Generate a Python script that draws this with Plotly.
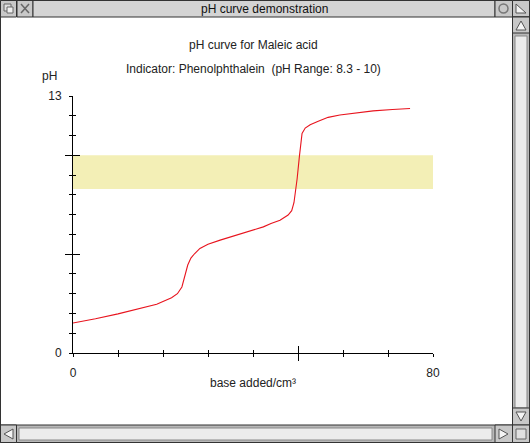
import plotly.graph_objects as go

# titration data
base_added = [0, 5, 10, 14, 18.6, 21.9, 23.2, 24.2, 24.9, 25.5, 26.2, 27.0, 28.2,
              30.0, 32.7, 35.0, 38.5, 42.3, 44.0, 46.0, 47.8, 48.6, 49.1, 49.5,
              49.8, 50.3, 50.9, 51.6, 52.7, 54.5, 56.7, 59.3, 63.0, 66.7, 71.0, 74.9]
ph_values = [1.52, 1.73, 1.98, 2.2, 2.47, 2.8, 3.0, 3.34, 4.0, 4.45, 4.8, 5.02, 5.29,
             5.5, 5.71, 5.87, 6.1, 6.38, 6.55, 6.72, 6.98, 7.2, 7.6, 8.2,
             8.8, 9.92, 11.11, 11.38, 11.55, 11.72, 11.92, 12.04, 12.15, 12.25, 12.32, 12.37]

indicator_range = [8.3, 10]
x_ticks = [0, 10, 20, 30, 40, 50, 60, 70, 80]
x_labels = ["0", "", "", "", "", "", "", "", "80"]
x_long = [50]
y_ticks = list(range(0, 14))
y_labels = ["0"] + [""] * 12 + ["13"]
y_long = [5, 10]

W, H = 530, 443
L, R, T, B = 73, 97, 96, 90
PW, PH = W - L - R, H - T - B
FONT = "Liberation Sans, Arial, sans-serif"


def px(x):
    return (x - L) / PW


def py(y):
    return (H - B - y) / PH


fig = go.Figure()
fig.add_trace(go.Scatter(x=base_added, y=ph_values, mode="lines",
                         line=dict(color="#e8141e", width=1.1),
                         hoverinfo="x+y", showlegend=False))
# empty traces so the overlaid tick axes get drawn
for i in (2, 3, 4):
    fig.add_trace(go.Scatter(x=[], y=[], xaxis=f"x{i}", yaxis=f"y{i}",
                             showlegend=False, hoverinfo="skip"))

# indicator colour change band
fig.add_shape(type="rect", xref="x", yref="y", x0=x_ticks[0], x1=x_ticks[-1],
              y0=indicator_range[0], y1=indicator_range[1],
              fillcolor="#f3efb6", line_width=0, layer="below")

ax_common = dict(showgrid=False, zeroline=False, tickcolor="black", tickwidth=1)
fig.update_layout(
    width=W, height=H,
    margin=dict(l=L, r=R, t=T, b=B),
    paper_bgcolor="white", plot_bgcolor="white",
    font=dict(family=FONT, size=12, color="#222"),
    xaxis=dict(range=[0, 80], showline=True, linecolor="black", linewidth=1,
               tickvals=x_ticks, ticktext=x_labels, ticks="outside", ticklen=3,
               ticklabelstandoff=6, **ax_common),
    xaxis2=dict(range=[0, 80], overlaying="x", anchor="y", side="bottom",
                tickvals=x_ticks, ticks="inside", ticklen=3, showticklabels=False,
                showline=False, **ax_common),
    xaxis3=dict(range=[0, 80], overlaying="x", anchor="y", side="bottom",
                tickvals=x_long, ticks="outside", ticklen=7, showticklabels=False,
                showline=False, **ax_common),
    xaxis4=dict(range=[0, 80], overlaying="x", anchor="y", side="bottom",
                tickvals=x_long, ticks="inside", ticklen=7, showticklabels=False,
                showline=False, **ax_common),
    yaxis=dict(range=[0, 13], showline=True, linecolor="black", linewidth=1,
               tickvals=y_ticks, ticktext=y_labels, ticks="outside", ticklen=3,
               ticklabelstandoff=5, **ax_common),
    yaxis2=dict(range=[0, 13], overlaying="y", anchor="x", side="left",
                tickvals=y_ticks, ticks="inside", ticklen=3, showticklabels=False,
                showline=False, **ax_common),
    yaxis3=dict(range=[0, 13], overlaying="y", anchor="x", side="left",
                tickvals=y_long, ticks="outside", ticklen=7, showticklabels=False,
                showline=False, **ax_common),
    yaxis4=dict(range=[0, 13], overlaying="y", anchor="x", side="left",
                tickvals=y_long, ticks="inside", ticklen=7, showticklabels=False,
                showline=False, **ax_common),
)

# chart texts
texts = [
    ("pH curve for Maleic acid", 253, 45, "center"),
    ("Indicator: Phenolphthalein  (pH Range: 8.3 - 10)", 253, 69, "center"),
    ("pH", 40, 76, "left"),
    ("base added/cm³", 253, 383, "center"),
]
for t, x, y, anc in texts:
    fig.add_annotation(text=t, x=px(x), y=py(y), xref="paper", yref="paper",
                       xanchor=anc, yanchor="middle", showarrow=False)

# RISC OS window furniture
GREY, DARK, LIGHT = "#d4d4d4", "#333333", "#ececec"


def box(x0, y0, x1, y1, fill=GREY, line=DARK, w=1):
    fig.add_shape(type="rect", xref="paper", yref="paper",
                  x0=px(x0), x1=px(x1), y0=py(y0), y1=py(y1),
                  fillcolor=fill, line=dict(color=line, width=w), layer="above")


def seg(x0, y0, x1, y1, color=DARK, w=1):
    fig.add_shape(type="line", xref="paper", yref="paper",
                  x0=px(x0), x1=px(x1), y0=py(y0), y1=py(y1),
                  line=dict(color=color, width=w), layer="above")


def tri(pts, fill="#f4f4f4"):
    d = "M " + " L ".join(f"{px(a)},{py(b)}" for a, b in pts) + " Z"
    fig.add_shape(type="path", xref="paper", yref="paper", path=d,
                  fillcolor=fill, line=dict(color="#555", width=1), layer="above")


# outer frame
box(0.5, 0.5, 529.5, 442.5, fill="rgba(0,0,0,0)")
# title bar
box(0.5, 0.5, 16.5, 17, fill="#c8c8c8")
box(17, 0.5, 33, 17, fill="#c8c8c8")
box(33, 0.5, 495, 17, fill=GREY)
box(495, 0.5, 512.5, 17, fill="#c8c8c8")
box(512.5, 0.5, 529.5, 17, fill="#c8c8c8")
fig.add_annotation(text="pH curve demonstration", x=px(264), y=py(9), xref="paper",
                   yref="paper", xanchor="center", yanchor="middle", showarrow=False,
                   font=dict(size=12, color="#111"))
# back icon
box(4, 4, 11, 11, fill="#e0e0e0", line="#666")
box(7, 7, 13, 13, fill="#f0f0f0", line="#666")
# close icon
seg(21, 4, 29, 13, "#666", 1.5)
seg(21, 13, 29, 4, "#666", 1.5)
# toggle size icon
fig.add_shape(type="circle", xref="paper", yref="paper", x0=px(499), x1=px(508),
              y0=py(4), y1=py(13), line=dict(color="#777", width=1.5), layer="above")
# adjust icon
tri([(516, 4), (516, 13), (526, 13)])

# vertical scroll bar
box(512.5, 17, 529.5, 425, fill="#b8b8b8")
box(512.5, 17, 529.5, 33, fill="#c8c8c8")
tri([(521, 21), (516, 30), (526, 30)])
box(515, 36, 527, 408, fill=LIGHT, line="#888")
box(512.5, 408, 529.5, 425, fill="#c8c8c8")
tri([(516, 412), (526, 412), (521, 421)])
# horizontal scroll bar
box(0.5, 425, 512.5, 442.5, fill="#b8b8b8")
box(0.5, 425, 16.5, 442.5, fill="#c8c8c8")
tri([(4, 434), (13, 429), (13, 439)])
box(19, 428, 492, 440, fill=LIGHT, line="#888")
box(495, 425, 512.5, 442.5, fill="#c8c8c8")
tri([(499, 429), (499, 439), (508, 434)])
box(512.5, 425, 529.5, 442.5, fill="#c8c8c8")
box(516, 429, 526, 439, fill="#e0e0e0", line="#666")

fig.write_html("out.html", config={"displayModeBar": False},
               post_script="document.body.style.margin='0';")
